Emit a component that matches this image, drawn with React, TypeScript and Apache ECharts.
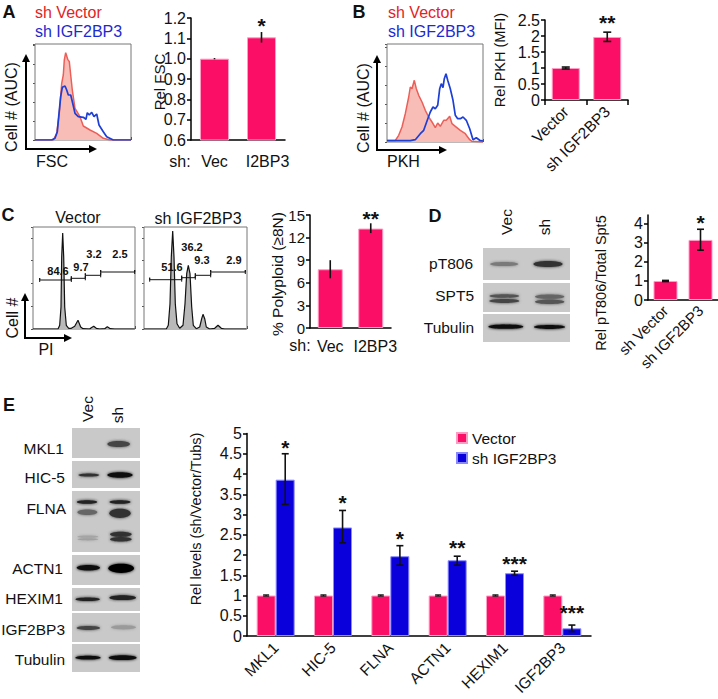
import React, { useEffect, useRef } from "react";
import * as echarts from "echarts";

const FONT = '"Liberation Sans", Arial, sans-serif';
const PINK = "#fb0f66";
const PINK_EDGE = "#ff9cc4";
const BLUE = "#0a00dc";
const BLUE_EDGE = "#8a8aff";
const RED_LINE = "#ec5f58";
const RED_FILL = "#f9bdb7";
const HIST_BLUE = "#1d3fd6";

// Panel A
const fscVector = [[0,0],[18.3,0],[21.7,6.7],[24.3,26.7],[26.7,56.7],[28.3,65],[29.3,80],[30.7,87.3],[32.7,80.7],[34.3,78.3],[35.7,65],[37.3,50],[40,31.7],[45,23.3],[48.3,14],[55,10],[61.7,6.7],[68.3,1.7],[75,0],[96,0]];
const fscIgf = [[0,0],[16.7,0],[20,1.7],[22.3,8.3],[24,26.7],[25.7,43.3],[27.3,52.7],[30,54],[31.7,50],[33.3,45],[35.7,45],[37.7,36.7],[40,26.7],[43.3,23.3],[48.3,22.7],[51,20.7],[52.3,27.3],[54.3,25],[56.7,27.7],[59,23.3],[61.7,26],[64,15],[68.3,8.3],[71.7,3.3],[78.3,0],[96,0]];
const fscCats = ["Vec", "I2BP3"];
const fscVals = [1.0, 1.105];
const fscLow = [0.997, 1.079];
const fscHigh = [1.003, 1.131];
const fscStars = [[1, 1.172, "*"]];

// Panel B
const pkhVector = [[0,1.5],[8.3,1.5],[11.7,6.7],[15,15],[18.3,28.3],[21.7,45],[23.3,55],[25,53.3],[27.3,61.7],[29.3,53.3],[31.7,46.7],[35,40],[38.3,31.7],[41.7,25],[45,20],[48.3,14.3],[50.7,19],[53.3,15.7],[56.7,21.7],[59.3,21.7],[62.7,25.7],[65,18.3],[68.3,15.7],[73.3,11.7],[78.3,8.3],[82.7,2.3],[85,0.7],[96,0]];
const pkhIgf = [[0,1.3],[23.3,1.3],[28.3,2.3],[33.3,8.3],[36.7,11.7],[40,21],[43.3,30],[46,35],[48.3,33.3],[50.7,36.7],[52.7,53.3],[54.3,58.3],[56,54.3],[57.3,63.3],[59,68.3],[60.7,61.7],[63.3,53.3],[66,41.7],[68.3,26.7],[70.7,23.3],[73.3,23.3],[76,25],[79.3,21.7],[82.7,13.3],[86,2.3],[89.3,4.3],[92.7,1.7],[96,1]];
const pkhCats = ["Vector", "sh IGF2BP3"];
const pkhVals = [1.0, 1.97];
const pkhLow = [0.97, 1.83];
const pkhHigh = [1.03, 2.12];
const pkhStars = [[1, 2.5, "**"]];

// Panel C
const piVector = [[0,0],[25,0],[26.7,3.7],[28,22],[28.7,72],[29.7,96],[30.7,72],[31.7,22],[33.3,3.7],[35.7,0.7],[38.3,0.7],[41.7,2.7],[45,8.7],[47.7,2],[50,0.3],[56.7,0],[58.3,1.3],[60.7,2.7],[63.3,0.7],[66.7,0],[71.7,0.3],[74.3,2.3],[77.3,0.3],[81.7,0],[101.7,0]];
const piIgf = [[0,0],[22.3,0],[24.3,3.7],[26,25.3],[27.3,72],[28.7,98],[30,72],[31.3,25.3],[33,5.3],[35.7,0.7],[39,3.7],[41,25.3],[42.7,55.3],[44.3,63.7],[46,55.3],[47.7,22],[49.3,3.7],[52.3,0.3],[55.7,2],[57.7,10.3],[59,14.7],[60.7,10.3],[62.3,2],[65.7,0],[70.7,0.7],[74,3.7],[77.3,0.7],[80.7,0],[102.3,0]];
const gatesVector = [[6.7,38.3,49],[38.3,52.3,50.7],[52.3,67.7,53.7],[67.7,101.7,57]];
const gatesIgf = [[5.7,37.7,49.3],[37.7,51.3,51.3],[51.3,66.7,53.7],[66.7,101.3,57]];
const polyCats = ["Vec", "I2BP3"];
const polyVals = [7.8, 13.2];
const polyLow = [6.6, 12.6];
const polyHigh = [9.0, 13.9];
const polyStars = [[1, 14.8, "**"]];

// Panel D
const sptCats = ["sh Vector", "sh IGF2BP3"];
const sptVals = [1.0, 3.16];
const sptLow = [0.97, 2.62];
const sptHigh = [1.03, 3.72];
const sptStars = [[1, 4.2, "*"]];
const sptTicks = [0, 1, 2, 3, 4];

// Panel E
const geneCats = ["MKL1", "HIC-5", "FLNA", "ACTN1", "HEXIM1", "IGF2BP3"];
const geneVector = [1, 1, 1, 1, 1, 1];
const geneVectorLow = [0.985, 0.985, 0.985, 0.985, 0.985, 0.985];
const geneVectorHigh = [1.015, 1.015, 1.015, 1.015, 1.015, 1.015];
const geneIgf = [3.86, 2.68, 1.97, 1.87, 1.55, 0.19];
const geneIgfLow = [3.25, 2.3, 1.75, 1.75, 1.5, 0.11];
const geneIgfHigh = [4.5, 3.1, 2.23, 1.97, 1.6, 0.27];
const geneStars = [[0, 4.71, "*"], [1, 3.34, "*"], [2, 2.46, "*"], [3, 2.24, "**"], [4, 1.85, "***"], [5, 0.63, "***"]];

const txt = (text: string, x: number, y: number, size: number, o: any = {}) => ({
  type: "text", x, y, rotation: o.rot || 0, z: 20,
  style: {
    text, x: 0, y: 0, fill: o.fill || "#111",
    font: `${o.bold ? "bold " : ""}${size}px ${FONT}`,
    textAlign: o.align || "center", textVerticalAlign: o.valign || "middle",
  },
});
const vtxt = (text: string, x: number, y: number, size: number) => txt(text, x, y, size, { rot: Math.PI / 2 });
const arrow = (cx: number, cy: number, top: number, right: number) => [
  { type: "polyline", z: 15, shape: { points: [[cx, top + 6], [cx, cy], [right - 6, cy]] }, style: { stroke: "#000", lineWidth: 2, fill: "none" } },
  { type: "polygon", z: 15, shape: { points: [[cx - 4, top + 8], [cx + 4, top + 8], [cx, top]] }, style: { fill: "#000" } },
  { type: "polygon", z: 15, shape: { points: [[right - 8, cy - 4], [right - 8, cy + 4], [right, cy]] }, style: { fill: "#000" } },
];
const blotRow = (x1: number, y1: number, x2: number, y2: number) => ({
  type: "rect", z: 5, shape: { x: x1, y: y1, width: x2 - x1, height: y2 - y1 }, style: { fill: "#c9c9c9" },
});
const band = (ox: number, oy: number, zx1: number, zx2: number, zy: number, t: number, color: string) => ({
  type: "ellipse", z: 6,
  shape: { cx: ox + (zx1 + zx2) / 6, cy: oy + zy / 3, rx: (zx2 - zx1) / 6, ry: t / 6 + 0.6 },
  style: { fill: color, shadowBlur: 3, shadowColor: color },
});

const grids: any[] = [];
const xAxes: any[] = [];
const yAxes: any[] = [];
const series: any[] = [];

const addHist = (l: number, t: number, w: number, h: number, curves: any[], gates: number[][] = [], tickY = 19) => {
  const i = grids.length;
  grids.push({ left: l, top: t, width: w, height: h, show: true, borderColor: "#777", borderWidth: 1, backgroundColor: "#fff", z: 1 });
  xAxes.push({
    type: "value", gridIndex: i, min: 0, max: w, interval: 19, axisLine: { show: false },
    axisTick: { show: true, inside: true, length: 3, lineStyle: { color: "#333", width: 1 } },
    axisLabel: { show: false }, splitLine: { show: false },
  });
  yAxes.push({
    type: "value", gridIndex: i, min: 0, max: h, interval: tickY, axisLine: { show: false },
    axisTick: { show: true, length: 2, lineStyle: { color: "#555", width: 1 } },
    axisLabel: { show: false }, splitLine: { show: false },
  });
  curves.forEach((c) => {
    series.push({
      type: "line", xAxisIndex: i, yAxisIndex: i, data: c.data, symbol: "none", silent: true, z: c.z || 3,
      lineStyle: { color: c.color, width: c.width || 1.5 },
      areaStyle: c.fill ? { color: c.fill, opacity: 1 } : undefined,
    });
  });
  gates.forEach(([a, b, y]) => {
    series.push({
      type: "line", xAxisIndex: i, yAxisIndex: i, symbol: "none", silent: true, z: 4,
      lineStyle: { color: "#111", width: 1 },
      data: [[a, y - 2], [a, y + 2], [a, y], [b, y], [b, y + 2], [b, y - 2]],
    });
  });
};

const errorSeries = (i: number, low: number[], high: number[], frac: number, cap: number, lw: number) => ({
  type: "custom", xAxisIndex: i, yAxisIndex: i, z: 6, silent: true, clip: false,
  data: low.map((v, k) => [k, v, high[k]]),
  renderItem: (_: any, api: any) => {
    const bw = api.size([1, 0])[0];
    const p = api.coord([api.value(0), 0]);
    const x = p[0] + frac * bw;
    const yLow = api.coord([api.value(0), api.value(1)])[1];
    const yHigh = api.coord([api.value(0), api.value(2)])[1];
    const style = { stroke: "#111", lineWidth: lw, fill: "none" };
    const children: any[] = [{ type: "line", shape: { x1: x, y1: yLow, x2: x, y2: yHigh }, style }];
    if (cap > 0) {
      children.push({ type: "line", shape: { x1: x - cap, y1: yLow, x2: x + cap, y2: yLow }, style });
      children.push({ type: "line", shape: { x1: x - cap, y1: yHigh, x2: x + cap, y2: yHigh }, style });
    }
    return { type: "group", children };
  },
});

const starSeries = (i: number, stars: any[], frac: number, size: number) => ({
  type: "custom", xAxisIndex: i, yAxisIndex: i, z: 7, silent: true, clip: false,
  data: stars,
  renderItem: (_: any, api: any) => {
    const bw = api.size([1, 0])[0];
    const p = api.coord([api.value(0), api.value(1)]);
    return {
      type: "text", x: p[0] + frac * bw, y: p[1] + 2,
      style: { text: stars[_.dataIndex][2], x: 0, y: 0, font: `bold ${size}px ${FONT}`, fill: "#111", textAlign: "center", textVerticalAlign: "middle" },
    };
  },
});

const addBars = (cfg: any) => {
  const i = grids.length;
  grids.push({ left: cfg.l, top: cfg.t, width: cfg.w, height: cfg.h, show: false });
  xAxes.push({
    type: "category", gridIndex: i, data: cfg.cats,
    axisLine: { show: true, lineStyle: { color: "#000", width: 1.5 } },
    axisTick: { show: !!cfg.xTicks, length: 5, lineStyle: { color: "#000", width: 1.5 } },
    axisLabel: { interval: 0, rotate: cfg.rotate || 0, margin: cfg.margin ?? 8, fontFamily: FONT, fontSize: cfg.xSize || 16, color: "#111" },
  });
  const tickCfg = cfg.customTicks ? { customValues: cfg.customTicks } : {};
  yAxes.push({
    type: "value", gridIndex: i, min: cfg.min, max: cfg.max, interval: cfg.interval,
    axisLine: { show: true, onZero: false, lineStyle: { color: "#000", width: 1.5 } },
    axisTick: { show: true, length: 4, lineStyle: { color: "#000", width: 1.5 }, ...tickCfg },
    axisLabel: { margin: 5, fontFamily: FONT, fontSize: cfg.ySize || 16, color: "#111", formatter: cfg.fmt, ...tickCfg },
    splitLine: { show: false },
  });
  return i;
};
const barSeries = (i: number, name: string, vals: number[], color: string, edge: string, width: any, gap?: string) => ({
  type: "bar", name, xAxisIndex: i, yAxisIndex: i, data: vals, barWidth: width, barGap: gap, silent: true, z: 3,
  itemStyle: { color, borderColor: edge, borderWidth: 1 },
});

addHist(35, 44, 96, 96, [
  { data: fscVector, color: RED_LINE, fill: RED_FILL },
  { data: fscIgf, color: HIST_BLUE, width: 1.7, z: 4 },
]);
const a = addBars({
  l: 191, t: 18, w: 94, h: 122, cats: [fscCats[0], { value: fscCats[1], textStyle: { padding: [0, 0, 0, 12] } }],
  min: 0.6, max: 1.2, interval: 0.1, fmt: (v: number) => v.toFixed(1), margin: 13,
});
series.push(barSeries(a, "Rel FSC", fscVals, PINK, PINK_EDGE, 29), errorSeries(a, fscLow, fscHigh, 0, 0, 1.6), starSeries(a, fscStars, 0, 21));

addHist(387, 44, 96, 98, [
  { data: pkhVector, color: RED_LINE, fill: RED_FILL },
  { data: pkhIgf, color: HIST_BLUE, width: 1.7, z: 4 },
]);
const b = addBars({
  l: 545, t: 20, w: 83, h: 80, cats: pkhCats, min: 0, max: 2.5, interval: 0.5, xTicks: true, rotate: 45, margin: 9, xSize: 15.5,
});
series.push(barSeries(b, "Rel PKH", pkhVals, PINK, PINK_EDGE, 28), errorSeries(b, pkhLow, pkhHigh, 0, 4, 1.6), starSeries(b, pkhStars, 0, 21));

addHist(33, 227, 102, 102, [{ data: piVector, color: "#111", fill: "#b9b9b9", width: 1.2 }], gatesVector, 22.8);
addHist(144, 227, 103, 102, [{ data: piIgf, color: "#111", fill: "#b9b9b9", width: 1.2 }], gatesIgf, 22.8);
const c = addBars({
  l: 310, t: 215, w: 81, h: 113, cats: [polyCats[0], { value: polyCats[1], textStyle: { padding: [0, 0, 0, 9] } }],
  min: 0, max: 15, interval: 3, margin: 10, ySize: 15,
});
series.push(barSeries(c, "% Polyploid", polyVals, PINK, PINK_EDGE, 25), errorSeries(c, polyLow, polyHigh, 0, 0, 1.6), starSeries(c, polyStars, 0, 21));

const d = addBars({
  l: 648, t: 215, w: 70, h: 85, cats: sptCats, min: 0, max: 4.47, interval: 1, rotate: 45, margin: 8, xSize: 15, customTicks: sptTicks,
});
series.push(barSeries(d, "Rel pT806", sptVals, PINK, PINK_EDGE, 24), errorSeries(d, sptLow, sptHigh, 0, 3.5, 1.6), starSeries(d, sptStars, 0, 21));

const e = addBars({
  l: 247, t: 433.5, w: 344, h: 202.5, cats: geneCats, min: 0, max: 5, interval: 0.5, rotate: 45, margin: 9, xSize: 15.5,
});
series.push(
  barSeries(e, "Vector", geneVector, PINK, PINK_EDGE, 19, "0%"),
  barSeries(e, "sh IGF2BP3", geneIgf, BLUE, BLUE_EDGE, 19, "0%"),
  errorSeries(e, geneVectorLow, geneVectorHigh, -1 / 6, 3, 1.2),
  errorSeries(e, geneIgfLow, geneIgfHigh, 1 / 6, 3.5, 1.6),
  starSeries(e, geneStars, 1 / 6, 21),
);

const graphics: any[] = [
  txt("A", 9, 12, 18, { bold: true }), txt("B", 359, 12, 18, { bold: true }),
  txt("C", 8, 215, 18, { bold: true }), txt("D", 435, 216, 18, { bold: true }), txt("E", 9, 405, 18, { bold: true }),

  txt("sh Vector", 35, 12, 16, { align: "left", fill: "#e2231f" }),
  txt("sh IGF2BP3", 35, 31, 16, { align: "left", fill: "#1c2bd0" }),
  txt("FSC", 36, 161, 16, { align: "left" }),
  vtxt("Cell # (AUC)", 11, 107, 16), vtxt("Rel FSC", 159, 82, 15),
  txt("sh:", 180, 161, 16),
  ...arrow(26, 149, 54, 97),

  txt("sh Vector", 388, 12, 16, { align: "left", fill: "#e2231f" }),
  txt("sh IGF2BP3", 388, 31, 16, { align: "left", fill: "#1c2bd0" }),
  txt("PKH", 387, 161, 16, { align: "left" }),
  vtxt("Cell # (AUC)", 363, 108, 16), vtxt("Rel PKH (MFI)", 500, 60, 14.5),
  ...arrow(377, 150, 55, 447),

  txt("Vector", 78, 217, 16), txt("sh IGF2BP3", 198, 218, 16),
  vtxt("Cell #", 12, 318, 16), txt("PI", 46, 349, 16),
  vtxt("% Polyploid (≥8N)", 277, 274, 15.5),
  txt("sh:", 300, 345, 16),
  ...arrow(25, 338, 293, 72),
  txt("84.6", 58, 271, 11, { bold: true }), txt("9.7", 81, 267, 11, { bold: true }),
  txt("3.2", 94, 254, 11, { bold: true }), txt("2.5", 120, 254, 11, { bold: true }),
  txt("51.6", 172, 267, 11, { bold: true }), txt("36.2", 192, 247, 11, { bold: true }),
  txt("9.3", 202, 260, 11, { bold: true }), txt("2.9", 234, 260, 11, { bold: true }),

  vtxt("Vec", 506, 222, 15.5), vtxt("sh", 544, 227, 15.5),
  txt("pT806", 473, 263, 15.5, { align: "right" }), txt("SPT5", 474, 295, 15.5, { align: "right" }),
  txt("Tubulin", 474, 327, 15.5, { align: "right" }),
  vtxt("Rel pT806/Total Spt5", 601, 283, 14.5),
  blotRow(483, 248, 570, 280), blotRow(483, 283, 570, 312), blotRow(483, 314, 570, 342),
  band(400, 190, 270, 355, 222, 9, "#7a7a7a"), band(400, 190, 400, 488, 222, 15, "#333"),
  band(400, 190, 268, 358, 318, 7, "#555"), band(400, 190, 268, 358, 333, 8, "#444"),
  band(400, 190, 405, 493, 320, 9, "#666"), band(400, 190, 405, 493, 335, 10, "#555"),
  band(400, 190, 265, 370, 410, 9, "#0c0c0c"), band(400, 190, 402, 495, 411, 8, "#0c0c0c"),

  vtxt("Vec", 87, 409, 15.5), vtxt("sh", 117, 415, 15.5),
  txt("MKL1", 64, 448, 15.5, { align: "right" }), txt("HIC-5", 65, 477, 15.5, { align: "right" }),
  txt("FLNA", 66, 508, 15.5, { align: "right" }), txt("ACTN1", 63, 568, 15.5, { align: "right" }),
  txt("HEXIM1", 63, 598, 15.5, { align: "right" }), txt("IGF2BP3", 65, 629, 15.5, { align: "right" }),
  txt("Tubulin", 65, 659, 15.5, { align: "right" }),
  vtxt("Rel levels (sh/Vector/Tubs)", 196, 519, 14.5),
  blotRow(72, 428, 140, 458), blotRow(72, 461, 140, 488), blotRow(72, 491, 140, 552), blotRow(72, 555, 140, 585),
  blotRow(72, 588, 140, 611), blotRow(72, 613, 140, 642), blotRow(72, 644, 140, 672),
  band(0, 395, 322, 390, 147, 15, "#444"),
  band(0, 395, 235, 298, 240, 6, "#333"), band(0, 395, 322, 398, 240, 13, "#111"),
  band(0, 395, 230, 292, 321, 7, "#222"), band(0, 395, 232, 292, 352, 13, "#666"),
  band(0, 395, 232, 295, 425, 3, "#a5a5a5"), band(0, 395, 232, 295, 433, 3, "#a0a0a0"),
  band(0, 395, 328, 392, 321, 7, "#222"), band(0, 395, 328, 392, 355, 24, "#333"),
  band(0, 395, 330, 395, 418, 12, "#333"), band(0, 395, 330, 395, 433, 10, "#333"),
  band(0, 395, 230, 300, 518, 13, "#111"), band(0, 395, 325, 402, 520, 24, "#000"),
  band(0, 395, 226, 300, 613, 7, "#222"), band(0, 395, 328, 408, 608, 11, "#222"),
  band(0, 395, 230, 300, 699, 8, "#444"), band(0, 395, 333, 408, 697, 9, "#9a9a9a"),
  band(0, 395, 226, 302, 788, 8, "#111"), band(0, 395, 326, 410, 788, 11, "#111"),
];

export default function App() {
  const ref = useRef<HTMLDivElement>(null);
  useEffect(() => {
    const chart = echarts.init(ref.current!, undefined, { renderer: "svg" });
    chart.setOption({
      animation: false,
      backgroundColor: "#fff",
      grid: grids,
      xAxis: xAxes,
      yAxis: yAxes,
      series,
      legend: {
        data: ["Vector", "sh IGF2BP3"], left: 456, top: 430, orient: "vertical", itemWidth: 10, itemHeight: 10, itemGap: 4, padding: 0,
        icon: "rect", selectedMode: false,
        textStyle: { fontFamily: FONT, fontSize: 15.5, color: "#111" },
      },
      graphic: graphics,
    });
    return () => chart.dispose();
  }, []);
  return <div ref={ref} style={{ position: "absolute", left: 0, top: 0, width: 718, height: 699 }} />;
}
